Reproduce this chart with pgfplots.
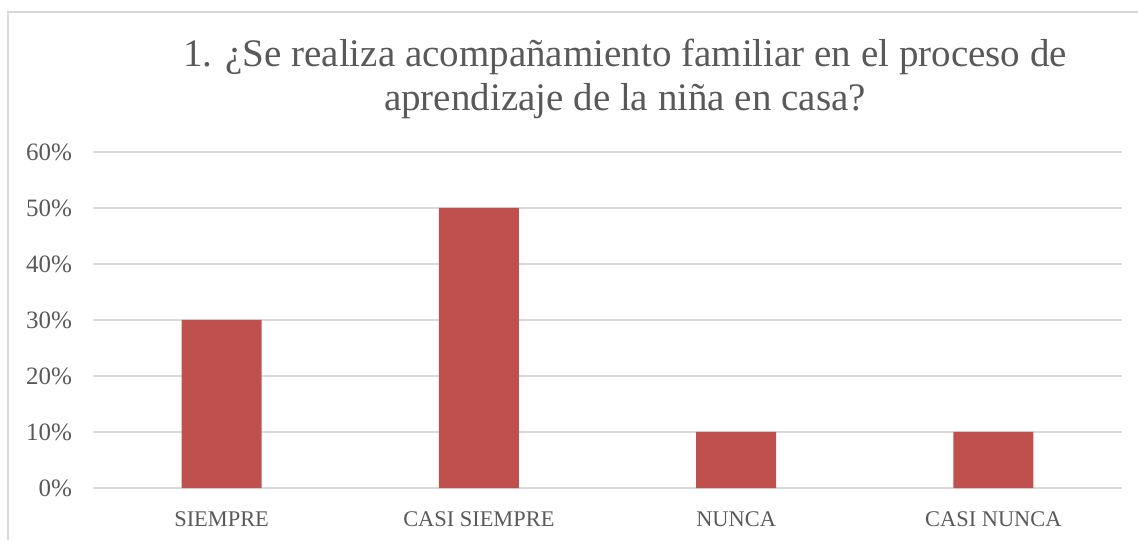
\documentclass[border=0pt]{standalone}
\usepackage{pgfplots}
\pgfplotsset{compat=1.18}
\usepackage{fontspec}
\setmainfont{Liberation Serif}
\definecolor{barred}{HTML}{C0504D}
\definecolor{gridgray}{HTML}{D9D9D9}
\definecolor{txtgray}{HTML}{595959}
\begin{document}
\begin{tikzpicture}[x=0.5pt,y=0.5pt]
% frame of the chart area (1px = 0.5pt)
\draw[gridgray, line width=1pt] (8,0) -- (8,528) -- (1138,528);
\begin{axis}[
  at={(46.5pt,26pt)}, anchor=south west,
  scale only axis, width=514.5pt, height=168pt,
  ybar, bar width=40pt,
  xmin=-0.5, xmax=3.5, ymin=0, ymax=0.6,
  xtick=data, xticklabels={SIEMPRE,CASI SIEMPRE,NUNCA,CASI NUNCA},
  ytick={0,0.1,0.2,0.3,0.4,0.5,0.6},
  yticklabels={0\%,10\%,20\%,30\%,40\%,50\%,60\%},
  axis line style={draw=none},
  axis x line*=bottom,
  major tick length=0pt,
  ymajorgrids, grid style={gridgray, line width=1pt},
  yticklabel style={font=\fontsize{12.5}{14}\selectfont, text=txtgray, xshift=-7pt},
  xticklabel style={font=\fontsize{11.2}{13}\selectfont, text=txtgray, yshift=-8.5pt},
  clip=false,
]
\addplot[fill=barred, draw=none] coordinates {(0,0.30) (1,0.50) (2,0.10) (3,0.10)};
\end{axis}
\node[text=txtgray, font=\fontsize{19.5}{22}\selectfont, align=center] at (625,461)
  {1. ¿Se realiza acompañamiento familiar en el proceso de\\aprendizaje de la niña en casa?};
\pgfresetboundingbox
\useasboundingbox (0,0) rectangle (1138,540);
\end{tikzpicture}
\end{document}
